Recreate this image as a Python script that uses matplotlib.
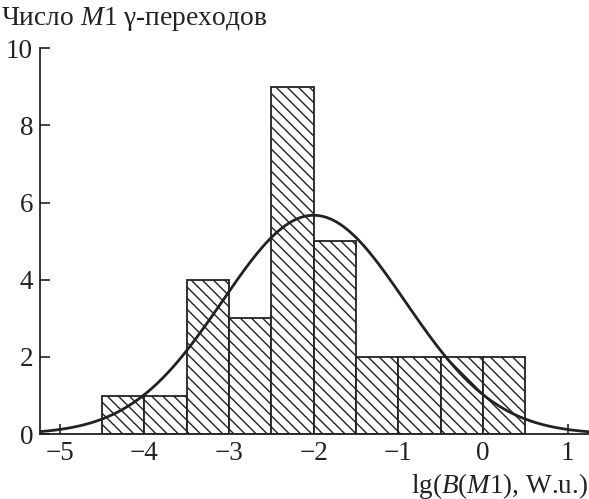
import matplotlib
matplotlib.use('Agg')
import matplotlib.pyplot as plt
import numpy as np

plt.rcParams['font.family'] = ['Liberation Serif', 'DejaVu Serif']
plt.rcParams['mathtext.fontset'] = 'custom'
plt.rcParams['mathtext.rm'] = 'Liberation Serif'
plt.rcParams['mathtext.it'] = 'Liberation Serif:italic'
plt.rcParams['hatch.linewidth'] = 1.0
plt.rcParams['hatch.color'] = '#222222'

# histogram of lg(B(M1))
bin_edges = [-4.5, -4.0, -3.5, -3.0, -2.5, -2.0, -1.5, -1.0, -0.5, 0.0, 0.5]
counts = [1, 1, 4, 3, 9, 5, 2, 2, 2, 2]

# fitted gaussian
g_amp = 5.67
g_mean = -2.0
g_sigma = 1.08

xticks = [-5, -4, -3, -2, -1, 0, 1]
yticks = [0, 2, 4, 6, 8, 10]

fig = plt.figure(figsize=(5.89, 4.99), dpi=100)
ax = fig.add_axes([0.068, 0.130, 0.932, 0.7735])

lefts = np.array(bin_edges[:-1])
widths = np.diff(bin_edges)
ax.bar(lefts, counts, width=widths, align='edge', facecolor='white',
       edgecolor='#222222', linewidth=1.3, hatch='\\\\\\', zorder=2)

xs = np.linspace(-5.25, 1.25, 400)
ax.plot(xs, g_amp * np.exp(-(xs - g_mean) ** 2 / (2 * g_sigma ** 2)),
        color='#222222', lw=2, zorder=3)

ax.set_xlim(-5.23, 1.25)
ax.set_ylim(0, 10)
ax.set_xticks(xticks)
ax.set_yticks(yticks)
ax.spines['top'].set_visible(False)
ax.spines['right'].set_visible(False)
for s in ['left', 'bottom']:
    ax.spines[s].set_linewidth(1.3)
    ax.spines[s].set_color('#222222')
ax.tick_params(direction='in', length=7, width=1.2, labelsize=19.5, colors='#222222', pad=5)
ax.tick_params(axis='y', pad=5)

fig.text(0.002, 0.962, 'Число $M$1 γ-переходов', fontsize=19.8, ha='left', va='center', color='#222222')
fig.text(0.998, 0.027, 'lg($B$($M$1), W.u.)', fontsize=19.5, ha='right', va='center', color='#222222')

fig.savefig('out.png', dpi=100)
